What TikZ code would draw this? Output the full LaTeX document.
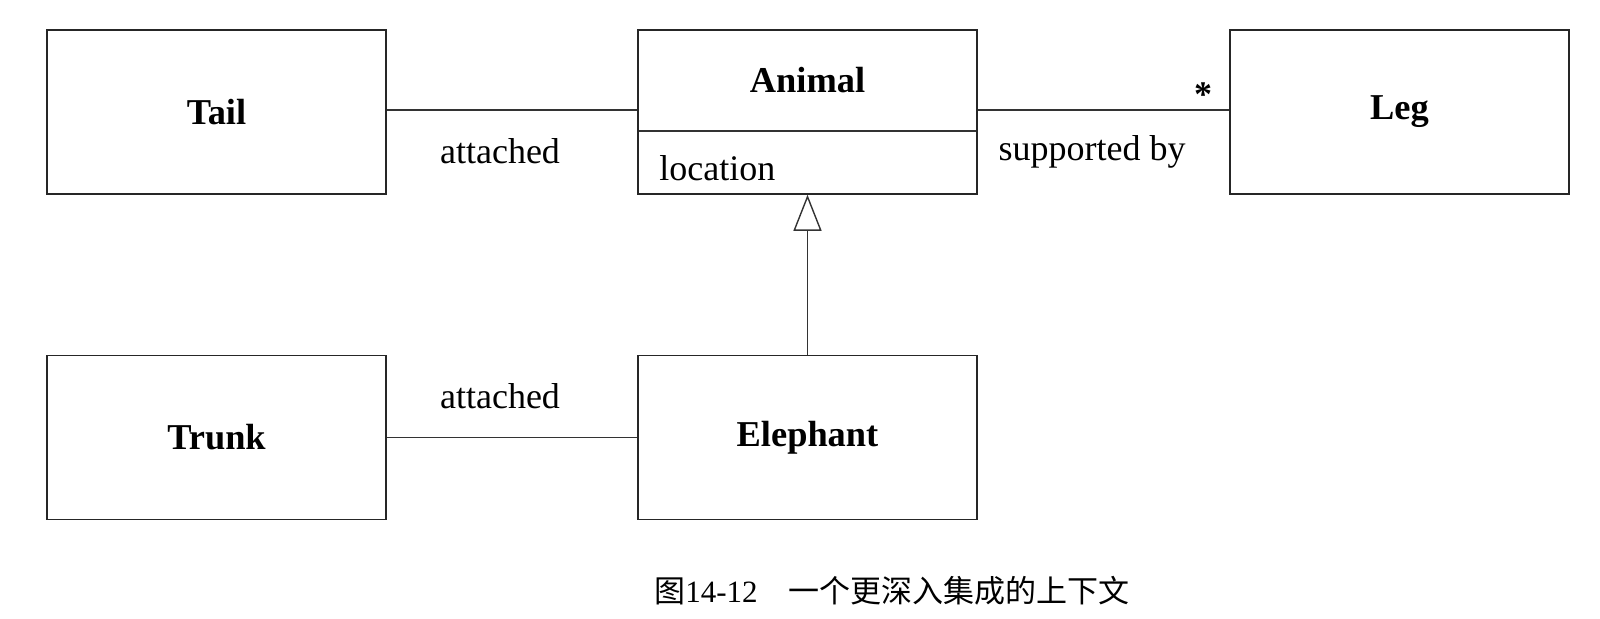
\documentclass[tikz,border=0pt]{standalone}
\usepackage{fontspec}
\setmainfont{Liberation Serif}
\newfontfamily\cjk{Noto Sans CJK SC}
\usetikzlibrary{arrows.meta}
\begin{document}
\begin{tikzpicture}[x=0.5pt,y=-0.5pt,
  cls/.style={draw=black!85, line width=0.75pt, minimum width=169.5pt, minimum height=82pt, inner sep=0pt, font=\fontsize{18.2}{21}\selectfont\bfseries},
  conn/.style={draw=black!80, line width=0.7pt},
  lbl/.style={font=\fontsize{18}{21}\selectfont, inner sep=0pt}]
\useasboundingbox (0,0) rectangle (1600,618);
\node[cls] (tail) at (216.5,112) {Tail};
\node[cls] (animal) at (807.5,112) {};
\node[font=\fontsize{18.2}{21}\selectfont\bfseries] (animalname) at (807.5,80) {Animal};
\coordinate (divl) at (639,131);
\coordinate (divr) at (976,131);
\draw[conn] (divl) -- (divr);
\node[lbl, anchor=west] (loc) at (659,168) {location};
\node[cls] (leg) at (1399.5,112) {Leg};
\node[cls] (trunk) at (216.5,437.5) {Trunk};
\node[cls] (elephant) at (807.5,437.5) {Elephant};
\draw[conn] ([yshift=1pt]tail.east) -- ([yshift=1pt]animal.west);
\draw[conn] ([yshift=1pt]animal.east) -- ([yshift=1pt]leg.west);
\draw[conn] (trunk.east) -- (elephant.west);
\draw[conn, -{Triangle[open, length=18pt, width=14pt]}] (elephant.north) -- (animal.south);
\node[lbl] (att1) at (500,151) {attached};
\node[lbl] (sup) at (1092,152) {supported by};
\node[lbl] (star) at (1203,95) {\bfseries *};
\node[lbl] (att2) at (500,396) {attached};
\node[inner sep=0pt, font=\fontsize{15.5}{18}\selectfont] (cap) at (892,591) {\cjk 图{\rmfamily 14-12}\quad 一个更深入集成的上下文};
\end{tikzpicture}
\end{document}
